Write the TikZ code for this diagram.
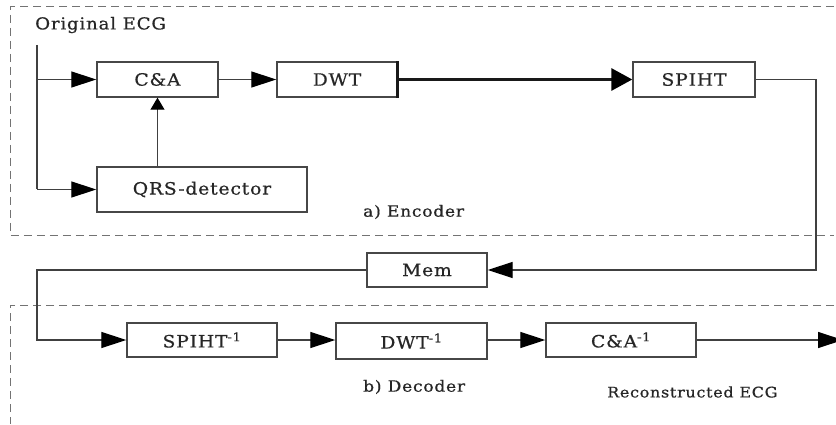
\documentclass[tikz,border=0pt]{standalone}
\usepackage{fontspec}
\setmainfont{DejaVu Serif}[FakeStretch=1.1, LetterSpace=5, FakeBold=0.6]
\usetikzlibrary{arrows.meta}
\begin{document}
\begin{tikzpicture}[x=1pt,y=-1pt,
  blk/.style={draw=black!72, line width=1.4pt, rectangle, minimum height=35pt, inner sep=0pt, text=black!85, font=\fontsize{17}{20}\selectfont},
  conn/.style={draw=black!75, line width=1.2pt},
  tip/.style={-{Triangle[length=25pt,width=16pt,black]}},
  uptip/.style={-{Triangle[length=12pt,width=14pt,black]}},
  frame/.style={draw=black!55, line width=1pt, dash pattern=on 8pt off 5pt},
  lbl/.style={font=\fontsize{15.5}{18}\selectfont, inner sep=0pt, text=black!85, anchor=west},
  biglbl/.style={font=\fontsize{16.5}{19}\selectfont, inner sep=0pt, text=black!85, anchor=west}]
\useasboundingbox (0,0) rectangle (836,425);
\fill[white] (0,0) rectangle (836,425);

% frames
\draw[frame] (834,7) -- (10,7) -- (10,235) -- (834,235);
\draw[frame] (834,305) -- (10,305) -- (10,424);

% encoder blocks
\node[blk, minimum width=121pt] (ca) at (157.5,79.5) {C\&A};
\node[blk, minimum width=120pt] (dwt) at (337,79.5) {DWT};
\node[blk, minimum width=122pt] (spiht) at (694,79.5) {SPIHT};
\node[blk, minimum width=210pt, minimum height=45pt] (qrs) at (202,189.5) {QRS-detector};
\node[blk, minimum width=120pt, minimum height=34pt] (mem) at (427,270) {Mem};

% decoder blocks
\node[blk, minimum width=150pt, minimum height=34pt] (sp1) at (202,340) {SPIHT\textsuperscript{-1}};
\node[blk, minimum width=151pt, minimum height=36pt] (dw1) at (411.5,341) {DWT\textsuperscript{-1}};
\node[blk, minimum width=150pt, minimum height=34pt] (ca1) at (621,340) {C\&A\textsuperscript{-1}};

% labels
\node[biglbl] (orig) at (35,25) {Original ECG};
\node[lbl] (enc) at (363,212) {a) Encoder};
\node[lbl] (dec) at (363,387) {b) Decoder};
\node[lbl, font=\fontsize{14.5}{17}\selectfont] (rec) at (607,392) {Reconstructed ECG};

% helper coordinates
\coordinate (src) at (37,45);
\coordinate (srcb) at (37,189.5);
\coordinate (rt) at (816,0);
\coordinate (lf) at (37,0);
\coordinate (out) at (843,340);

% encoder connectors
\draw[conn] (src) -- (srcb);
\draw[conn,tip] (src |- ca.west) -- (ca.west);
\draw[conn,tip] (srcb) -- (qrs.west);
\draw[conn,uptip] (ca.south |- qrs.north) -- (ca.south);
\draw[conn,tip] (ca.east) -- (dwt.west);
\draw[line width=3pt, black!90] (dwt.north east) -- (dwt.south east);
\draw[line width=3pt, black!90, -{Triangle[length=21pt,width=22pt,black]}] (dwt.east) -- (spiht.west);
\draw[conn,tip] (spiht.east) -- (spiht.east -| rt) -- (rt |- mem.east) -- (mem.east);

% decoder connectors
\draw[conn,tip] (mem.west) -- (mem.west -| lf) -- (lf |- sp1.west) -- (sp1.west);
\draw[conn,tip] (sp1.east) -- (sp1.east -| dw1.west);
\draw[conn,tip] (dw1.east |- ca1.west) -- (ca1.west);
\draw[conn,tip] (ca1.east) -- (out);
\end{tikzpicture}
\end{document}
